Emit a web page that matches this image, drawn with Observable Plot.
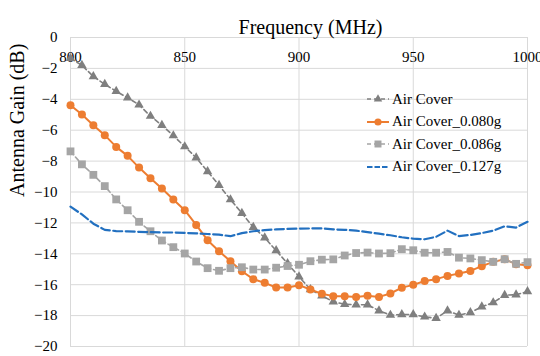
<!DOCTYPE html>
<html><head><meta charset="utf-8">
<script src="https://cdn.jsdelivr.net/npm/d3@7"></script>
<script src="https://cdn.jsdelivr.net/npm/@observablehq/plot@0.6"></script>
<style>
body{margin:0;background:#fff;}
#wrap{position:relative;width:540px;height:356px;font-family:"Liberation Serif","Times New Roman","DejaVu Serif",serif;}
#legend{position:absolute;left:366px;top:88px;font-size:15px;color:#000;line-height:1;}
.row{display:flex;align-items:center;height:22.5px;white-space:nowrap;}
.row svg{margin-right:2px;}
</style></head><body><div id="wrap"><div id="legend"></div></div>
<script>
const freq = [800,805,810,815,820,825,830,835,840,845,850,855,860,865,870,875,880,885,890,895,900,905,910,915,920,925,930,935,940,945,950,955,960,965,970,975,980,985,990,995,1000];
const airCover = [-1.35,-1.8,-2.52,-3.03,-3.48,-3.9,-4.36,-5.09,-5.68,-6.35,-7.06,-7.78,-8.67,-9.56,-10.49,-11.37,-12.28,-12.96,-13.79,-14.63,-15.48,-16.31,-16.72,-17.1,-17.27,-17.3,-17.3,-17.68,-17.97,-17.93,-17.93,-18.08,-18.17,-17.68,-17.97,-17.8,-17.43,-17.16,-16.68,-16.65,-16.44];
const cover080 = [-4.38,-4.99,-5.68,-6.32,-7.08,-7.66,-8.42,-9.11,-9.77,-10.49,-11.18,-12.13,-13.12,-13.83,-14.48,-15.13,-15.64,-15.88,-16.18,-16.18,-16.03,-16.31,-16.59,-16.74,-16.74,-16.79,-16.72,-16.79,-16.57,-16.19,-16.01,-15.76,-15.64,-15.43,-15.28,-15.11,-14.8,-14.52,-14.36,-14.67,-14.74];
const cover086 = [-7.37,-8.21,-8.89,-9.62,-10.48,-11.18,-11.93,-12.54,-13.14,-13.57,-13.98,-14.5,-14.93,-15.1,-14.93,-14.87,-15.02,-15.02,-14.9,-14.79,-14.71,-14.48,-14.38,-14.36,-14.11,-13.95,-13.92,-13.98,-13.96,-13.7,-13.77,-13.93,-13.93,-13.88,-14.25,-14.3,-14.41,-14.52,-14.35,-14.65,-14.54];
const cover127 = [-10.95,-11.45,-12.05,-12.45,-12.53,-12.55,-12.58,-12.6,-12.62,-12.62,-12.65,-12.68,-12.72,-12.76,-12.86,-12.66,-12.54,-12.47,-12.42,-12.39,-12.37,-12.36,-12.36,-12.42,-12.45,-12.5,-12.6,-12.7,-12.8,-12.93,-13.02,-13.06,-12.9,-12.5,-12.85,-12.78,-12.66,-12.5,-12.22,-12.3,-11.93];
const seriesNames = ["Air Cover","Air Cover_0.080g","Air Cover_0.086g","Air Cover_0.127g"];
const xTicks = [800,850,900,950,1000];
const yTicks = [0,-2,-4,-6,-8,-10,-12,-14,-16,-18,-20];
const title = "Frequency (MHz)";
const yTitle = "Antenna Gain (dB)";

const styles = [
  {values: airCover, color:"#7f7f7f", dash:"4.5 3", width:1.6, symbol:"triangle", r:3.5},
  {values: cover080, color:"#ed7d31", dash:null, width:2, symbol:"circle", r:4},
  {values: cover086, color:"#a5a5a5", dash:"4.5 3", width:1.6, symbol:"square", r:4.4},
  {values: cover127, color:"#2270c0", dash:"9 3.5", width:2.2, symbol:null, r:0}
];
const font = '"Liberation Serif","Times New Roman","DejaVu Serif",serif';

const marks = [
  Plot.gridY(yTicks, {stroke:"#d9d9d9", strokeOpacity:1}),
  Plot.gridX(xTicks, {stroke:"#d9d9d9", strokeOpacity:1}),
  Plot.axisY(yTicks, {tickSize:0, tickPadding:13, fontSize:15, label:null, fill:"#000", fontFamily:font}),
  Plot.text(xTicks, {x: d => d, y: () => 0, dy: 20, fontSize:15, fill:"#000", fontFamily:font, text: d => String(d)}),
  Plot.text([title], {frameAnchor:"top", dy:-18, dx:11.5, fontSize:20, fill:"#000", fontFamily:font}),
  Plot.text([yTitle], {frameAnchor:"left", rotate:-90, dx:-53, dy:5, fontSize:20, fill:"#000", fontFamily:font})
];
styles.forEach((s, k) => {
  const rows = freq.map((f, i) => ({f, v: s.values[i]}));
  marks.push(Plot.line(rows, {x:"f", y:"v", stroke:s.color, strokeWidth:s.width, strokeDasharray:s.dash}));
  if (s.symbol) marks.push(Plot.dot(rows, {x:"f", y:"v", symbol: () => s.symbol, r:s.r, fill:s.color, stroke:"none"}));
});

const chart = Plot.plot({
  width:540, height:356,
  marginLeft:70, marginRight:13, marginTop:37, marginBottom:10,
  style:{fontFamily:font, background:"#fff"},
  x:{domain:[800,1000], axis:null},
  y:{domain:[-20,0], axis:null},
  symbol:{type:"identity"},
  marks
});
document.getElementById("wrap").prepend(chart);

// legend
const legend = d3.select("#legend");
styles.forEach((s, k) => {
  const row = legend.append("div").attr("class","row");
  const svg = row.append("svg").attr("width",24).attr("height",12);
  svg.append("line").attr("x1",1).attr("x2",23).attr("y1",6).attr("y2",6)
    .attr("stroke",s.color).attr("stroke-width",s.width)
    .attr("stroke-dasharray", s.dash ? (k===3 ? "5.5 2" : "4 3") : null);
  if (s.symbol) {
    const sym = {triangle:d3.symbolTriangle, circle:d3.symbolCircle, square:d3.symbolSquare}[s.symbol];
    svg.append("path").attr("transform","translate(12,6)")
      .attr("d", d3.symbol(sym, Math.PI*s.r*s.r*0.8)()).attr("fill",s.color);
  }
  row.append("span").text(seriesNames[k]);
});
</script></body></html>
